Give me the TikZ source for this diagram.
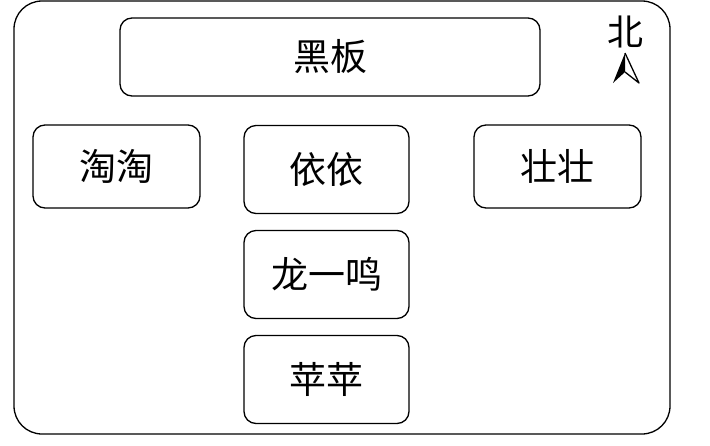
\documentclass[tikz,border=0pt]{standalone}
\usepackage{fontspec}
\newfontfamily\cjk{Noto Sans CJK SC}
\tikzset{
	seat/.style={draw, line width=1.3pt, rounded corners=12pt, minimum width=165pt, minimum height=88pt, font=\cjk\fontsize{37}{44}\selectfont},
}
\begin{document}
\begin{tikzpicture}[x=1pt, y=-1pt]
	\useasboundingbox (0,0) rectangle (710,445);
	
	\draw[line width=1.3pt, rounded corners=28pt] (14,1) rectangle (670,434);
	
	\node[seat, minimum width=420pt, minimum height=78pt] (board) at (330,57){黑板};
	
	\node[seat, minimum height=83pt, minimum width=167pt] (taotao) at (116.5,166.5){淘淘};
	\node[seat] (yiyi) at (326.5,169.5){依依};
	\node[seat, minimum height=83pt, minimum width=167pt] (zhuang) at (557.5,166.5){壮壮};
	\node[seat] (long) at (326.5,274.5){龙一鸣};
	\node[seat] (ping) at (326.5,379.5){苹苹};
	
	\node[font=\cjk\fontsize{36}{42}\selectfont] (north) at (625,32){北};
	\fill (625,53) -- (613,83) -- (625,72) -- cycle;
	\draw[line width=1.3pt, line join=round] (625,53) -- (639,83) -- (625,72);
\end{tikzpicture}
\end{document}
